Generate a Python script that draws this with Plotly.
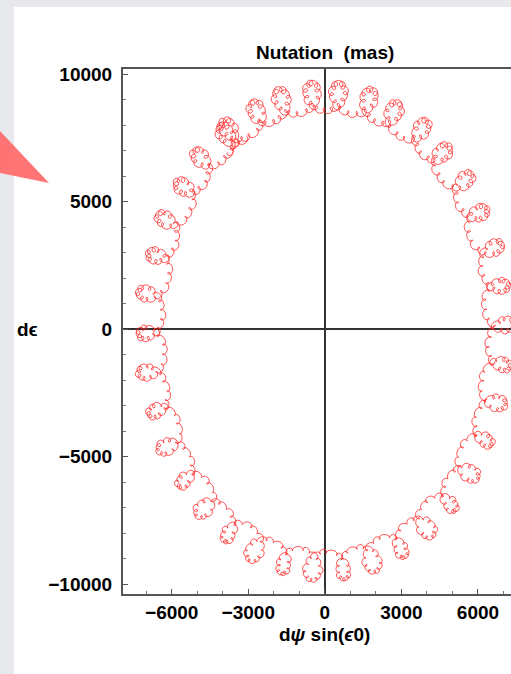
import numpy as np
import plotly.graph_objects as go

# Leading terms of the IAU 1980 nutation series (mas)
# multipliers of the Delaunay arguments l, l', F, D, Omega
term_l = [0, 0, 0, 0, 0, 1, 0, 0, 1, 0, 1, 0, -1]
term_lp = [0, 0, 0, 0, 1, 0, 1, 0, 0, -1, 0, 0, 0]
term_F = [0, 2, 2, 0, 0, 0, 2, 2, 2, 2, 0, 2, 2]
term_D = [0, -2, 0, 0, 0, 0, -2, 0, 0, -2, -2, -2, 0]
term_Om = [1, 2, 2, 2, 0, 0, 2, 1, 2, 2, 0, 1, 2]
dpsi_mas = [-17199.6, -1318.7, -227.4, 206.2, 142.6, 71.2, -51.7, -38.6, -30.1, 21.7, -15.8, 12.9, 12.3]
deps_mas = [9202.5, 573.6, 97.7, -89.5, 5.4, -0.7, 22.4, 20.0, 12.9, -9.5, -0.1, -7.0, -5.3]

# Delaunay arguments: value at J2000 and rate (deg / Julian century)
arg0_deg = [134.96298, 357.52772, 93.27191, 297.85036, 125.04452]
rate_deg = [477198.867398, 35999.05034, 483202.017538, 445267.11148, -1934.136261]
eps0_deg = 23.439

# time span shown (days from J2000)
start_day = 1650
span_days = 6940
step_days = 0.25

x_ticks = [-6000, -3000, 0, 3000, 6000]
y_ticks = [-10000, -5000, 0, 5000, 10000]

t = np.arange(start_day, start_day + span_days, step_days) / 36525.0
args = [np.radians(a + r * t) for a, r in zip(arg0_deg, rate_deg)]
dpsi = np.zeros_like(t)
deps = np.zeros_like(t)
for k in range(len(dpsi_mas)):
    phase = (term_l[k] * args[0] + term_lp[k] * args[1] + term_F[k] * args[2]
             + term_D[k] * args[3] + term_Om[k] * args[4])
    dpsi += dpsi_mas[k] * np.sin(phase)
    deps += deps_mas[k] * np.cos(phase)
x = dpsi * np.sin(np.radians(eps0_deg))

FONT = "Liberation Sans, Arial, sans-serif"
W, H = 511, 674
L, R, T, B = 123, 0, 69, 80
pw, ph = W - L - R, H - T - B


def px(xp):
    return (xp - L) / pw


def py(yp):
    return (H - B - yp) / ph


fig = go.Figure()
fig.add_trace(go.Scatter(
    x=x, y=deps, mode="lines",
    line=dict(color="#ff2a2a", width=0.8),
    hoverinfo="skip", showlegend=False,
))

axis_common = dict(
    showgrid=False,
    showline=True, linecolor="#555555", linewidth=2,
    zeroline=True, zerolinecolor="#333333", zerolinewidth=2,
    ticks="inside", ticklen=5, tickcolor="#555555",
    minor=dict(dtick=1000, ticks="inside", ticklen=3, tickcolor="#777777"),
    tickfont=dict(family=FONT, size=19, color="black", weight="bold"),
    tickformat="d",
    fixedrange=True,
)
fig.update_xaxes(**axis_common, range=[-7910, 7294], tickvals=x_ticks,
                 mirror=True, ticklabelstandoff=0)
fig.update_yaxes(**axis_common, range=[-10392, 10196], tickvals=y_ticks,
                 ticklabelstandoff=5)

fig.update_layout(
    width=W, height=H,
    margin=dict(l=L, r=R, t=T, b=B),
    paper_bgcolor="#e8e9ec",
    plot_bgcolor="white",
    shapes=[
        # white slide panel
        dict(type="rect", xref="paper", yref="paper", layer="below",
             x0=px(14), x1=px(W + 5), y0=py(7), y1=py(H + 5),
             fillcolor="white", line=dict(width=0)),
        # pointer arrow
        dict(type="path", xref="paper", yref="paper", layer="above",
             path=f"M {px(0)},{py(131)} L {px(49)},{py(183)} L {px(0)},{py(173)} Z",
             fillcolor="rgba(255,110,110,0.95)", line=dict(width=0)),
    ],
    annotations=[
        dict(text="<b>Nutation  (mas)</b>", x=0, xref="x", y=py(53), yref="paper",
             xanchor="center", yanchor="middle",
             showarrow=False, font=dict(family=FONT, size=19, color="black")),
        dict(text="<b>d<i>ψ</i> sin(<i>ϵ</i>0)</b>", x=0, xref="x", y=py(634), yref="paper",
             xanchor="center", yanchor="middle",
             showarrow=False, font=dict(family=FONT, size=19, color="black")),
        dict(text="<b>dϵ</b>", x=px(27), xref="paper", y=0, yref="y",
             xanchor="center", yanchor="middle",
             showarrow=False, font=dict(family=FONT, size=19, color="black")),
    ],
)

fig.write_html(
    "out.html",
    config={"displayModeBar": False},
    post_script="document.body.style.margin='0';document.body.style.overflow='hidden';",
)
